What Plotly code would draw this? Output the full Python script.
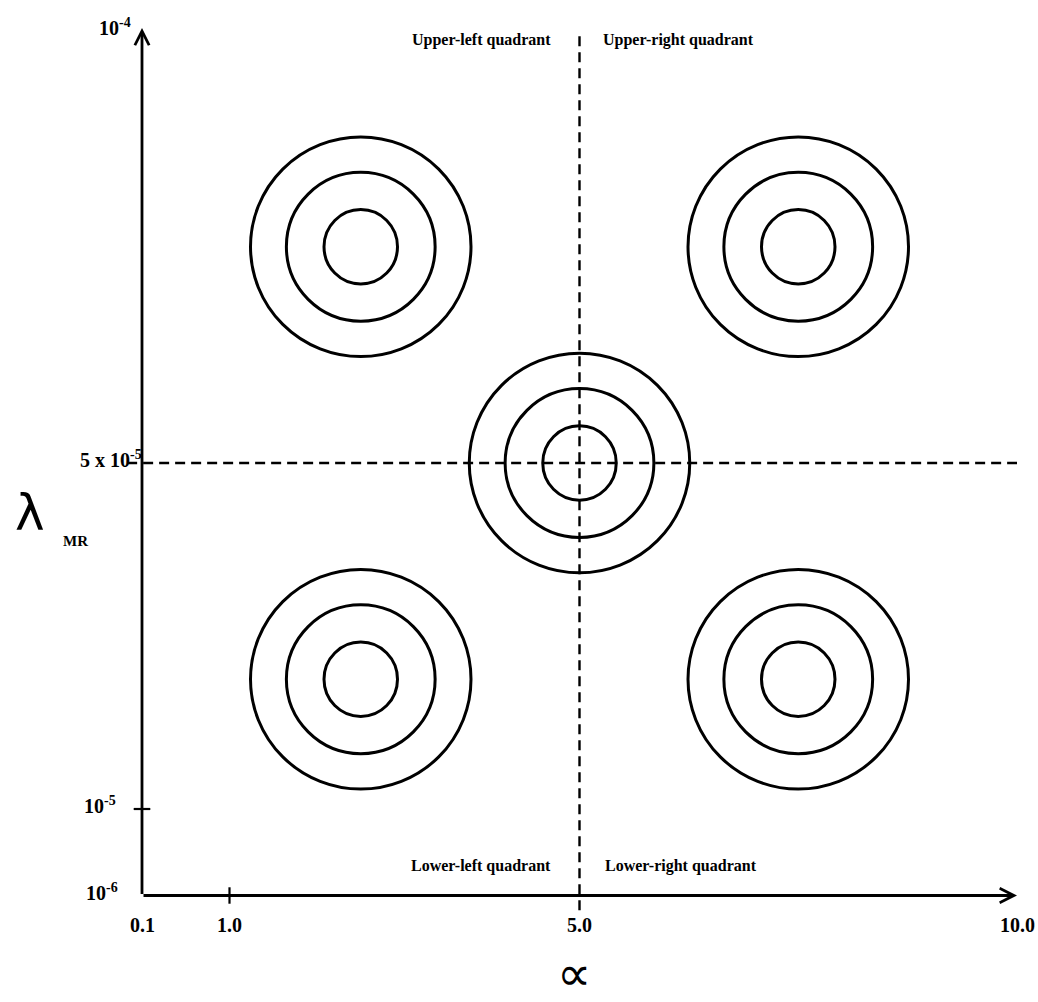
import plotly.graph_objects as go

# ---- data (schematic units: alpha axis, lambda_MR axis in units of 1e-5) ----
alpha_ticks = [0.0, 1.0, 5.0, 10.0]
alpha_tick_text = ["0.1", "1.0", "5.0", "10.0"]
lambda_ticks = [0.0, 1.0, 5.0, 10.0]
lambda_tick_text = ["10<sup>-6</sup>", "10<sup>-5</sup>", "5 x 10<sup>-5</sup>", "10<sup>-4</sup>"]
minor_alpha_ticks = [1.0]
minor_lambda_ticks = [1.0]

centers_alpha = [2.5, 7.5, 5.0, 2.5, 7.5]
centers_lambda = [7.5, 7.5, 5.0, 2.5, 2.5]
ring_r_alpha = [0.42, 0.85, 1.26]
ring_r_lambda = [0.43, 0.86, 1.27]

split_alpha = 5.0
split_lambda = 5.0
quadrant_labels = ["Upper-left quadrant", "Upper-right quadrant",
                   "Lower-left quadrant", "Lower-right quadrant"]
x_axis_title = "∝"
y_axis_title = "λ"
y_axis_sub = "MR"

# ---- styles / geometry ----
W, H = 1038, 1002
PX_X0, PX_PER_X = 142.0, 87.5      # pixel of alpha=0, px per unit
PX_Y0, PX_PER_Y = 895.5, 86.5      # pixel (from top) of lambda=0
x_range = [(0 - PX_X0) / PX_PER_X, (W - PX_X0) / PX_PER_X]
y_range = [(PX_Y0 - H) / PX_PER_Y, PX_Y0 / PX_PER_Y]
x_axis_end = 10.0
y_axis_end = 10.03
dash_h_start = -0.17
dash_v_start = -0.17
dash_v_end = 10.0
tick_half_x = 0.095
tick_half_y = 0.095
ylabel_xshift = [-22, -24, 2, -9]
ylabel_yshift = [4, 4, 4, 4]

FONT = "Liberation Serif"
BLACK = "#000000"

fig = go.Figure()
fig.add_trace(go.Scatter(x=centers_alpha, y=centers_lambda, mode="markers",
                         marker=dict(opacity=0), hoverinfo="skip", showlegend=False))

shapes = []
# concentric contour rings
for cx, cy in zip(centers_alpha, centers_lambda):
    for rx, ry in zip(ring_r_alpha, ring_r_lambda):
        shapes.append(dict(type="circle", xref="x", yref="y",
                           x0=cx - rx, x1=cx + rx, y0=cy - ry, y1=cy + ry,
                           line=dict(color=BLACK, width=3)))
# dashed quadrant dividers
shapes.append(dict(type="line", xref="x", yref="y", x0=dash_h_start, x1=x_axis_end,
                   y0=split_lambda, y1=split_lambda,
                   line=dict(color=BLACK, width=2.4, dash="10px,6px")))
shapes.append(dict(type="line", xref="x", yref="y", x0=split_alpha, x1=split_alpha,
                   y0=dash_v_start, y1=dash_v_end,
                   line=dict(color=BLACK, width=2.4, dash="10px,6px")))
# tick marks
for t in minor_alpha_ticks:
    shapes.append(dict(type="line", xref="x", yref="y", x0=t, x1=t,
                       y0=-tick_half_y, y1=tick_half_y, line=dict(color=BLACK, width=2.2)))
for t in minor_lambda_ticks:
    shapes.append(dict(type="line", xref="x", yref="y", y0=t, y1=t,
                       x0=-tick_half_x, x1=tick_half_x, line=dict(color=BLACK, width=2.2)))

annotations = []
# axes with open arrowheads
annotations.append(dict(x=x_axis_end, y=0, ax=0, ay=0, xref="x", yref="y",
                        axref="x", ayref="y", text="", showarrow=True,
                        arrowhead=5, arrowsize=1, arrowwidth=2.8, arrowcolor=BLACK))
annotations.append(dict(x=0, y=y_axis_end, ax=0, ay=0, xref="x", yref="y",
                        axref="x", ayref="y", text="", showarrow=True,
                        arrowhead=5, arrowsize=1, arrowwidth=2.8, arrowcolor=BLACK))
# x tick labels
for v, t in zip(alpha_ticks, alpha_tick_text):
    annotations.append(dict(x=v, y=0, xref="x", yref="y", text=t, showarrow=False,
                            xanchor="center", yanchor="middle", yshift=-29,
                            font=dict(family=FONT, size=20, color=BLACK, weight="bold")))
# y tick labels
for v, t, xs, ys in zip(lambda_ticks, lambda_tick_text, ylabel_xshift, ylabel_yshift):
    annotations.append(dict(x=0, y=v, xref="x", yref="y", text=t, showarrow=False,
                            xanchor="right", yanchor="middle", xshift=xs, yshift=ys,
                            font=dict(family=FONT, size=20, color=BLACK, weight="bold")))
# quadrant labels
qpos = [(split_alpha, dash_v_end, "right", -27, -9),
        (split_alpha, dash_v_end, "left", 21, -9),
        (split_alpha, 0, "right", -27, 30),
        (split_alpha, 0, "left", 23, 30)]
for lab, (qx, qy, anc, xs, ys) in zip(quadrant_labels, qpos):
    annotations.append(dict(x=qx, y=qy, xref="x", yref="y", text=lab, showarrow=False,
                            xanchor=anc, yanchor="middle", xshift=xs, yshift=ys,
                            font=dict(family=FONT, size=16, color=BLACK, weight="bold")))
# axis titles
annotations.append(dict(x=split_alpha, y=0, xref="x", yref="y", text=x_axis_title,
                        showarrow=False, xanchor="center", yanchor="middle",
                        xshift=-6, yshift=-77,
                        font=dict(family="DejaVu Sans", size=48, color=BLACK)))
annotations.append(dict(x=0, y=split_lambda, xref="x", yref="y", text=y_axis_title,
                        showarrow=False, xanchor="center", yanchor="middle",
                        xshift=-112, yshift=-50,
                        font=dict(family="DejaVu Sans", size=50, color=BLACK)))
annotations.append(dict(x=0, y=split_lambda, xref="x", yref="y", text=y_axis_sub,
                        showarrow=False, xanchor="center", yanchor="middle",
                        xshift=-67, yshift=-78,
                        font=dict(family=FONT, size=15, color=BLACK, weight="bold")))

fig.update_layout(
    width=W, height=H,
    margin=dict(l=0, r=0, t=0, b=0),
    paper_bgcolor="white", plot_bgcolor="white",
    xaxis=dict(range=x_range, visible=False, fixedrange=True),
    yaxis=dict(range=y_range, visible=False, fixedrange=True),
    shapes=shapes, annotations=annotations, showlegend=False,
)

fig.write_html("out.html")
